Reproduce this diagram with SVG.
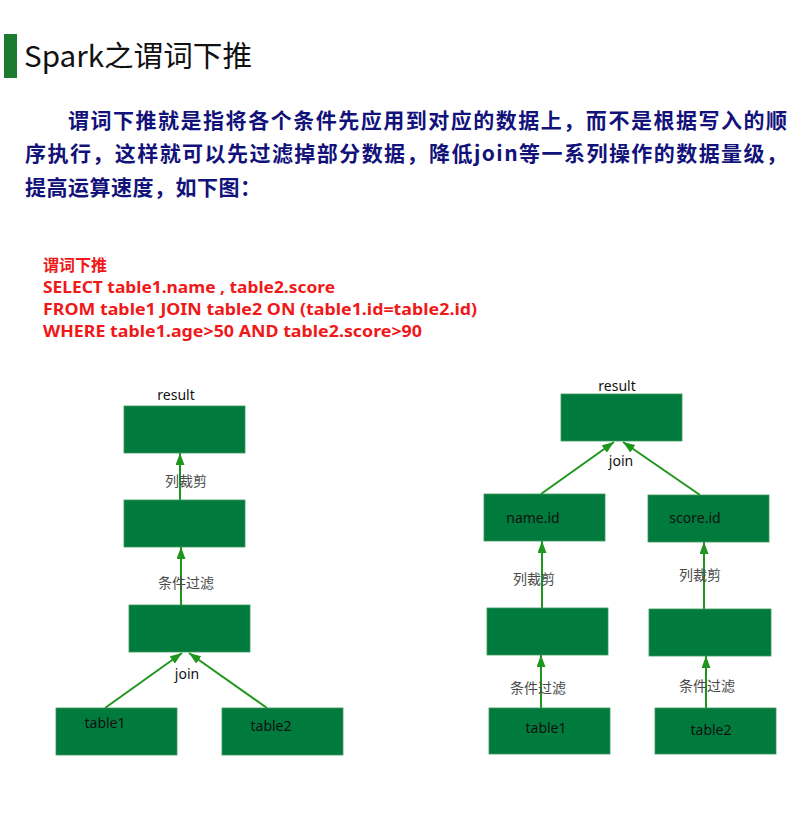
<svg xmlns="http://www.w3.org/2000/svg" width="809" height="830" viewBox="0 0 809 830">
<defs>
<marker id="ah" viewBox="0 0 12 9" refX="12" refY="4.5" markerWidth="12" markerHeight="9" markerUnits="userSpaceOnUse" orient="auto">
<path d="M0,0 L12,4.5 L0,9 z" fill="#1e961e"/>
</marker>
<style>
.box{fill:#007a3d;stroke:#3a9a5a;stroke-width:0.8}
.edge{stroke:#1e961e;stroke-width:2;fill:none;marker-end:url(#ah)}
.lbl{font-family:"Noto Sans CJK SC","Noto Sans",sans-serif;font-size:14px;fill:#4a4a4a;text-anchor:middle}
.nt{font-family:"Noto Sans","Noto Sans CJK SC",sans-serif;font-size:14px;fill:#111;text-anchor:middle}
.para{font-family:"Noto Sans CJK SC",sans-serif;font-size:21px;font-weight:bold;fill:#12127a}
.code{font-family:"Noto Sans","Noto Sans CJK SC",sans-serif;font-size:16px;font-weight:bold;fill:#f01818}
</style>
</defs>
<rect width="809" height="830" fill="#ffffff"/>
<g id="header">
<rect x="4" y="34" width="13" height="44" fill="#1c7b30"/>
<text x="24" y="67" font-family="Noto Sans CJK SC, Noto Sans, sans-serif" font-size="29" fill="#111" textLength="228" lengthAdjust="spacingAndGlyphs">Spark之谓词下推</text>
</g>
<g id="paragraph">
<text class="para" x="68" y="128" textLength="719" lengthAdjust="spacing">谓词下推就是指将各个条件先应用到对应的数据上，而不是根据写入的顺</text>
<text class="para" x="25" y="161" textLength="762" lengthAdjust="spacing">序执行，这样就可以先过滤掉部分数据，降低join等一系列操作的数据量级，</text>
<text class="para" x="25" y="195" textLength="236" lengthAdjust="spacing">提高运算速度，如下图：</text>
</g>
<g id="sql">
<text class="code" x="43" y="271">谓词下推</text>
<text class="code" x="43" y="293" textLength="292" lengthAdjust="spacingAndGlyphs">SELECT table1.name , table2.score</text>
<text class="code" x="43" y="315" textLength="434" lengthAdjust="spacingAndGlyphs">FROM table1 JOIN table2 ON (table1.id=table2.id)</text>
<text class="code" x="43" y="337" textLength="379" lengthAdjust="spacingAndGlyphs">WHERE table1.age&gt;50 AND table2.score&gt;90</text>
</g>
<g id="connectors">
<line class="edge" x1="180" y1="500" x2="180" y2="453"/>
<line class="edge" x1="181" y1="605" x2="181" y2="547"/>
<line class="edge" x1="105" y1="708" x2="182" y2="653"/>
<line class="edge" x1="267" y1="708" x2="189" y2="653"/>
<line class="edge" x1="541" y1="494" x2="614" y2="442"/>
<line class="edge" x1="700" y1="495" x2="623" y2="442"/>
<line class="edge" x1="542" y1="608" x2="542" y2="541"/>
<line class="edge" x1="704" y1="609" x2="704" y2="542"/>
<line class="edge" x1="541" y1="708" x2="541" y2="655"/>
<line class="edge" x1="706" y1="708" x2="706" y2="656"/>
</g>
<g id="left-result">
<rect class="box" x="124" y="406" width="121" height="47"/>
<text class="nt" x="176" y="400">result</text>
</g>
<g id="left-project">
<rect class="box" x="124" y="500" width="121" height="47"/>
</g>
<g id="left-filter">
<rect class="box" x="129" y="605" width="121" height="47"/>
</g>
<g id="left-table1">
<rect class="box" x="56" y="708" width="121" height="47"/>
<text class="nt" x="105" y="728">table1</text>
</g>
<g id="left-table2">
<rect class="box" x="222" y="708" width="121" height="47"/>
<text class="nt" x="271" y="731">table2</text>
</g>
<g id="right-result">
<rect class="box" x="561" y="394" width="121" height="47"/>
<text class="nt" x="617" y="391">result</text>
</g>
<g id="right-nameid">
<rect class="box" x="484" y="494" width="121" height="47"/>
<text class="nt" x="533" y="523">name.id</text>
</g>
<g id="right-scoreid">
<rect class="box" x="648" y="495" width="121" height="47"/>
<text class="nt" x="695" y="523">score.id</text>
</g>
<g id="right-mid1">
<rect class="box" x="487" y="608" width="121" height="47"/>
</g>
<g id="right-mid2">
<rect class="box" x="649" y="609" width="122" height="47"/>
</g>
<g id="right-table1">
<rect class="box" x="489" y="708" width="121" height="46"/>
<text class="nt" x="546" y="733">table1</text>
</g>
<g id="right-table2">
<rect class="box" x="655" y="708" width="121" height="46"/>
<text class="nt" x="711" y="735">table2</text>
</g>
<g id="edge-labels">
<text class="lbl" x="186" y="486">列裁剪</text>
<text class="lbl" x="186" y="588">条件过滤</text>
<text class="nt" x="187" y="679">join</text>
<text class="nt" x="621" y="466">join</text>
<text class="lbl" x="534" y="584">列裁剪</text>
<text class="lbl" x="700" y="580">列裁剪</text>
<text class="lbl" x="538" y="693">条件过滤</text>
<text class="lbl" x="707" y="691">条件过滤</text>
</g>
</svg>
